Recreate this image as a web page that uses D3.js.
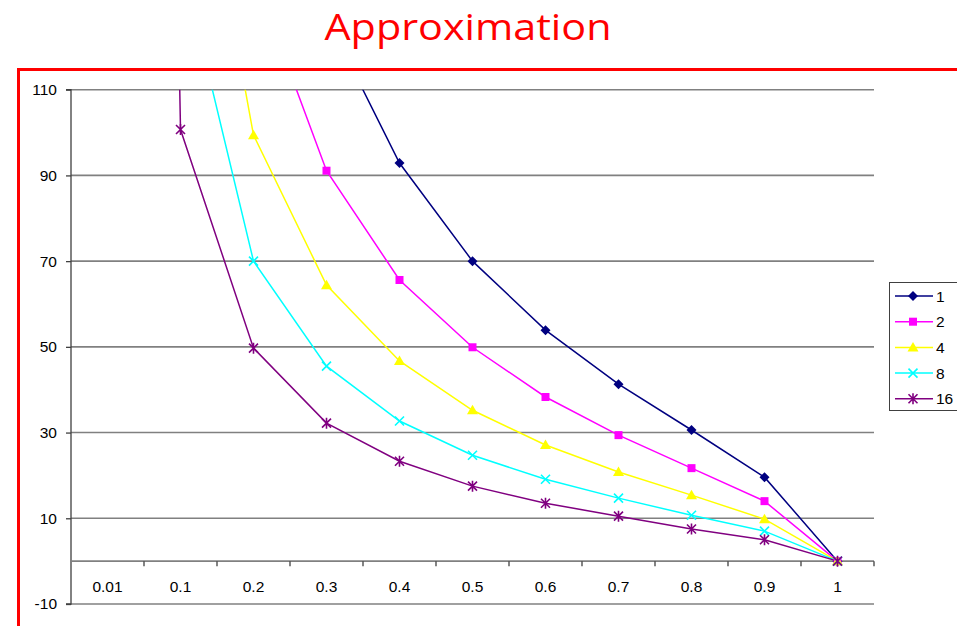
<!DOCTYPE html>
<html>
<head>
<meta charset="utf-8">
<script src="https://cdn.jsdelivr.net/npm/d3@7"></script>
<style>
  html, body { margin: 0; padding: 0; background: #fff; }
  svg { display: block; }
</style>
</head>
<body>
<svg id="chart" width="957" height="626"></svg>
<script>
// ---- data ----
const categories = ["0.01", "0.1", "0.2", "0.3", "0.4", "0.5", "0.6", "0.7", "0.8", "0.9", "1"];
const seriesNames = ["1", "2", "4", "8", "16"];
const values1  = [1500, 420, 210, 127, 92.9, 70.0, 53.9, 41.3, 30.6, 19.6, 0];
const values2  = [1000, 280, 137, 91.1, 65.6, 49.9, 38.3, 29.4, 21.7, 14.0, 0];
const values4  = [1200, 193, 99.4, 64.4, 46.7, 35.2, 27.1, 20.8, 15.4, 9.8, 0];
const values8  = [1100, 141, 70.0, 45.5, 32.7, 24.7, 19.1, 14.7, 10.7, 7.0, 0];
const values16 = [1000, 100.7, 49.7, 32.2, 23.3, 17.5, 13.5, 10.5, 7.5, 5.0, 0];
const yTicks = [-10, 10, 30, 50, 70, 90, 110];
const chartTitle = "Approximation";

const seriesValues = [values1, values2, values4, values8, values16];
const colors = ["#000080", "#FF00FF", "#FFFF00", "#00FFFF", "#800080"];
const markers = ["diamond", "square", "triangle", "x", "star"];

// ---- layout ----
const svg = d3.select("#chart");
const pLeft = 71, pRight = 874, pTop = 89.7, pBottom = 604;

const x = d3.scaleBand().domain(categories).range([pLeft, pRight]).padding(0);
const y = d3.scaleLinear().domain([-10, 110]).range([pBottom, pTop]);
const cx = c => x(c) + x.bandwidth() / 2;

// outer red border
svg.append("rect")
  .attr("x", 18.5).attr("y", 69.5).attr("width", 960).attr("height", 600)
  .attr("fill", "none").attr("stroke", "#FF0000").attr("stroke-width", 3);

// title
svg.append("text")
  .attr("x", 468).attr("y", 40)
  .attr("text-anchor", "middle")
  .attr("font-family", "'Open Sans', 'Noto Sans', sans-serif")
  .attr("font-size", 37)
  .attr("fill", "#FF0000")
  .attr("textLength", 287)
  .attr("lengthAdjust", "spacingAndGlyphs")
  .text(chartTitle);

// gridlines
svg.append("g").selectAll("line").data(yTicks).join("line")
  .attr("x1", pLeft).attr("x2", pRight)
  .attr("y1", d => y(d)).attr("y2", d => y(d))
  .attr("stroke", "#808080").attr("stroke-width", 1.6);

// y axis
const yAxis = d3.axisLeft(y).tickValues(yTicks).tickSize(5).tickPadding(9).tickFormat(d => String(d));
const gy = svg.append("g").attr("transform", `translate(${pLeft},0)`).call(yAxis);
gy.select(".domain").attr("stroke", "#404040").attr("stroke-width", 1.3).attr("d", `M-5,${pTop}H0V${pBottom}H-5`);
gy.selectAll(".tick line").attr("stroke", "#404040").attr("stroke-width", 1.3);
gy.selectAll(".tick text")
  .attr("font-family", "'Liberation Sans', Arial, sans-serif")
  .attr("font-size", 15.5).attr("fill", "#000");

// x axis at y = 0
const xAxis = d3.axisBottom(x).tickSize(0).tickPadding(19.5);
const gx = svg.append("g").attr("transform", `translate(0,${y(0)})`).call(xAxis);
gx.select(".domain").attr("stroke", "#808080").attr("stroke-width", 1.6).attr("d", `M${pLeft},0H${pRight}`);
gx.selectAll(".tick text")
  .attr("font-family", "'Liberation Sans', Arial, sans-serif")
  .attr("font-size", 15.5).attr("fill", "#000");
// category boundary tick marks
const bounds = categories.map(c => x(c)).concat([pRight]);
svg.append("g").selectAll("line").data(bounds.slice(1)).join("line")
  .attr("x1", d => d).attr("x2", d => d)
  .attr("y1", y(0)).attr("y2", y(0) + 5)
  .attr("stroke", "#404040").attr("stroke-width", 1.3);

// clip
svg.append("clipPath").attr("id", "plotclip")
  .append("rect").attr("x", pLeft).attr("y", pTop).attr("width", pRight - pLeft).attr("height", pBottom - pTop);

function drawMarker(g, type, color, px, py) {
  if (type === "diamond") {
    g.append("path").attr("d", `M${px},${py - 5}L${px + 5},${py}L${px},${py + 5}L${px - 5},${py}Z`)
      .attr("fill", color);
  } else if (type === "square") {
    g.append("rect").attr("x", px - 4).attr("y", py - 4).attr("width", 8).attr("height", 8).attr("fill", color);
  } else if (type === "triangle") {
    g.append("path").attr("d", `M${px},${py - 5.5}L${px + 5.5},${py + 4}L${px - 5.5},${py + 4}Z`).attr("fill", color);
  } else if (type === "x") {
    const r = 4.5;
    g.append("path").attr("d", `M${px - r},${py - r}L${px + r},${py + r}M${px - r},${py + r}L${px + r},${py - r}`)
      .attr("stroke", color).attr("stroke-width", 1.6).attr("fill", "none");
  } else if (type === "star") {
    const r = 4.5;
    g.append("path").attr("d", `M${px - r},${py - r}L${px + r},${py + r}M${px - r},${py + r}L${px + r},${py - r}M${px},${py - r - 1}L${px},${py + r + 1}`)
      .attr("stroke", color).attr("stroke-width", 1.6).attr("fill", "none");
  }
}

const plot = svg.append("g").attr("clip-path", "url(#plotclip)");
const line = d3.line().x((d, i) => cx(categories[i])).y(d => y(d));

seriesValues.forEach((vals, si) => {
  plot.append("path").datum(vals)
    .attr("d", line)
    .attr("fill", "none").attr("stroke", colors[si]).attr("stroke-width", 1.5);
});
seriesValues.forEach((vals, si) => {
  const g = plot.append("g");
  vals.forEach((v, i) => {
    if (v <= 110) drawMarker(g, markers[si], colors[si], cx(categories[i]), y(v));
  });
});

// legend
const lg = svg.append("g");
lg.append("rect").attr("x", 889.5).attr("y", 282.5).attr("width", 80).attr("height", 128)
  .attr("fill", "#fff").attr("stroke", "#404040").attr("stroke-width", 1);
seriesNames.forEach((n, i) => {
  const ly = 296 + i * 25.7;
  lg.append("line").attr("x1", 895).attr("x2", 933).attr("y1", ly).attr("y2", ly)
    .attr("stroke", colors[i]).attr("stroke-width", 1.5);
  drawMarker(lg, markers[i], colors[i], 913, ly);
  lg.append("text").attr("x", 936).attr("y", ly + 5.5)
    .attr("font-family", "'Liberation Sans', Arial, sans-serif")
    .attr("font-size", 15.5).attr("fill", "#000").text(n);
});
</script>
</body>
</html>
